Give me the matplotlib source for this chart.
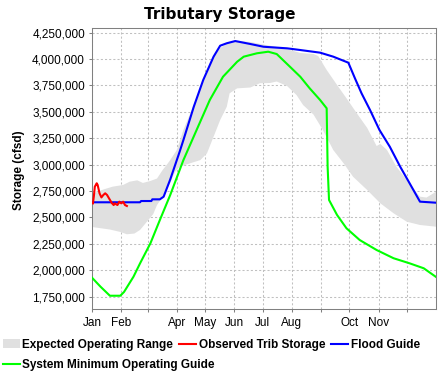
import numpy as np
import matplotlib.pyplot as plt
from matplotlib.patches import Patch
from matplotlib.lines import Line2D
from matplotlib.ticker import StrMethodFormatter

plt.rcParams['font.family'] = ['Liberation Sans', 'DejaVu Sans']

# month axis (day of year)
month_days = [0, 31, 59, 90, 120, 151, 181, 212, 243, 273, 304, 334]
month_labels = ['Jan', 'Feb', '', 'Apr', 'May', 'Jun', 'Jul', 'Aug', '', 'Oct', 'Nov', '']

# expected operating range (upper / lower edge), cfsd
range_hi_days = [0, 12, 22, 33, 40, 48, 54, 62, 69, 75, 80, 83, 90, 97, 104, 115, 125, 136,
                 146, 157, 168, 184, 203, 221, 235, 240, 249, 260, 270, 281, 292, 302, 306,
                 313, 323, 334, 345, 348, 355, 365]
range_hi = [2722000, 2765000, 2792000, 2808000, 2839000, 2852000, 2827000, 2846000, 2869000,
            2950000, 3007000, 3044000, 3139000, 3329000, 3480000, 3726000, 3963000, 4105000,
            4162000, 4171000, 4162000, 4134000, 4105000, 4058000, 4048000, 4029000, 3897000,
            3755000, 3629000, 3487000, 3348000, 3177000, 3196000, 3139000, 2981000, 2855000,
            2729000, 2697000, 2689000, 2744000]
range_lo_days = [0, 19, 30, 37, 45, 51, 58, 65, 69, 75, 83, 88, 93, 104, 115, 122, 129, 136,
                 143, 146, 154, 168, 178, 189, 196, 207, 217, 224, 235, 245, 256, 267, 277,
                 292, 306, 320, 334, 348, 365]
range_lo = [2410000, 2386000, 2363000, 2341000, 2348000, 2382000, 2457000, 2533000, 2618000,
            2697000, 2827000, 2931000, 2981000, 3013000, 3044000, 3108000, 3265000, 3423000,
            3549000, 3676000, 3723000, 3731000, 3771000, 3774000, 3788000, 3745000, 3660000,
            3565000, 3475000, 3329000, 3139000, 3013000, 2886000, 2760000, 2634000, 2540000,
            2460000, 2429000, 2413000]

# flood guide
flood_days = [0, 51, 52, 63, 64, 72, 76, 83, 93, 97, 108, 118, 129, 136, 143, 152, 168, 182,
              207, 221, 242, 256, 272, 279, 286, 295, 305, 316, 327, 337, 348, 365]
flood = [2644000, 2644000, 2656000, 2656000, 2672000, 2672000, 2697000, 2860000, 3123000,
         3234000, 3549000, 3802000, 4023000, 4127000, 4150000, 4171000, 4143000, 4117000,
         4102000, 4086000, 4061000, 4023000, 3966000, 3818000, 3676000, 3518000, 3329000,
         3170000, 2981000, 2824000, 2650000, 2640000]

# system minimum operating guide
min_days = [0, 9, 19, 30, 34, 44, 51, 62, 72, 83, 97, 111, 125, 139, 154, 161, 175, 187, 196,
            210, 221, 231, 242, 249, 250, 251.5, 260, 270, 284, 302, 320, 337, 352, 365]
min_guide = [1930000, 1845000, 1759000, 1759000, 1795000, 1939000, 2066000, 2256000, 2476000,
             2713000, 3044000, 3329000, 3613000, 3833000, 3975000, 4023000, 4055000, 4070000,
             4048000, 3928000, 3833000, 3723000, 3613000, 3534000, 2981000, 2666000, 2524000,
             2398000, 2287000, 2192000, 2114000, 2066000, 2019000, 1937000]

# observed trib storage
obs_days = [1, 2, 3, 5, 6, 8, 10, 12, 14, 16, 18, 21, 23, 24, 27, 29, 31, 33, 35, 37]
observed = [2634000, 2704000, 2792000, 2824000, 2808000, 2729000, 2690000, 2713000, 2729000,
            2713000, 2682000, 2637000, 2618000, 2634000, 2618000, 2650000, 2634000, 2650000,
            2618000, 2609000]

band_color = '#e0e0e0'

fig = plt.figure(figsize=(4.44, 3.77), dpi=100)
ax = fig.add_axes([92/444, 1-309/377, 344/444, 281/377])

ax.fill(np.r_[range_hi_days, range_lo_days[::-1]], np.r_[range_hi, range_lo[::-1]],
        color=band_color, lw=0, zorder=1)
ax.plot(flood_days, flood, color='#0000ff', lw=1.5, zorder=3)
ax.plot(min_days, min_guide, color='#00ff00', lw=1.5, zorder=3)
ax.plot(obs_days, observed, color='#ff0000', lw=1.5, zorder=4)

ax.set_xlim(0, 365)
ax.set_ylim(1633400, 4294500)
ax.set_xticks(month_days)
ax.set_xticklabels(month_labels)
ax.set_yticks(np.arange(1750000, 4250001, 250000))
ax.yaxis.set_major_formatter(StrMethodFormatter('{x:,.0f}'))
ax.tick_params(direction='out', length=2, width=0.75, color='#808080', labelsize=8.5)
ax.tick_params(axis='x', pad=4)
ax.tick_params(axis='y', pad=3)

ax.set_axisbelow(True)
ax.grid(True, color='#c0c0c0', linestyle=(0, (2, 2)), lw=0.75)
for s in ax.spines.values():
    s.set_color('#808080')
    s.set_linewidth(0.75)

fig.text(220/444, 1-14/377, 'Tributary Storage', ha='center', va='center',
         family='DejaVu Sans', weight='bold', fontsize=11)
fig.text(19/444, 1-170/377, 'Storage (cfsd)', rotation=90, ha='center', va='center',
         weight='bold', fontsize=8.5)

lp = dict(family='Liberation Sans', weight='bold', size=8.5)
h1 = [Patch(facecolor=band_color, edgecolor='none'),
      Line2D([], [], color='#ff0000', lw=1.5),
      Line2D([], [], color='#0000ff', lw=1.5)]
leg1 = fig.legend(h1, ['Expected Operating Range', 'Observed Trib Storage', 'Flood Guide'],
                  loc='center left', bbox_to_anchor=(3/444, 1-345/377), ncol=3, frameon=False,
                  prop=lp, handlelength=1.4, handletextpad=0.25, columnspacing=0.5,
                  borderpad=0, borderaxespad=0, handleheight=0.8)
h2 = [Line2D([], [], color='#00ff00', lw=1.5)]
fig.legend(h2, ['System Minimum Operating Guide'], loc='center left',
           bbox_to_anchor=(3/444, 1-365/377), frameon=False, prop=lp, handlelength=1.4,
           handletextpad=0.25, borderpad=0, borderaxespad=0)

fig.savefig('out.png', dpi=100)
